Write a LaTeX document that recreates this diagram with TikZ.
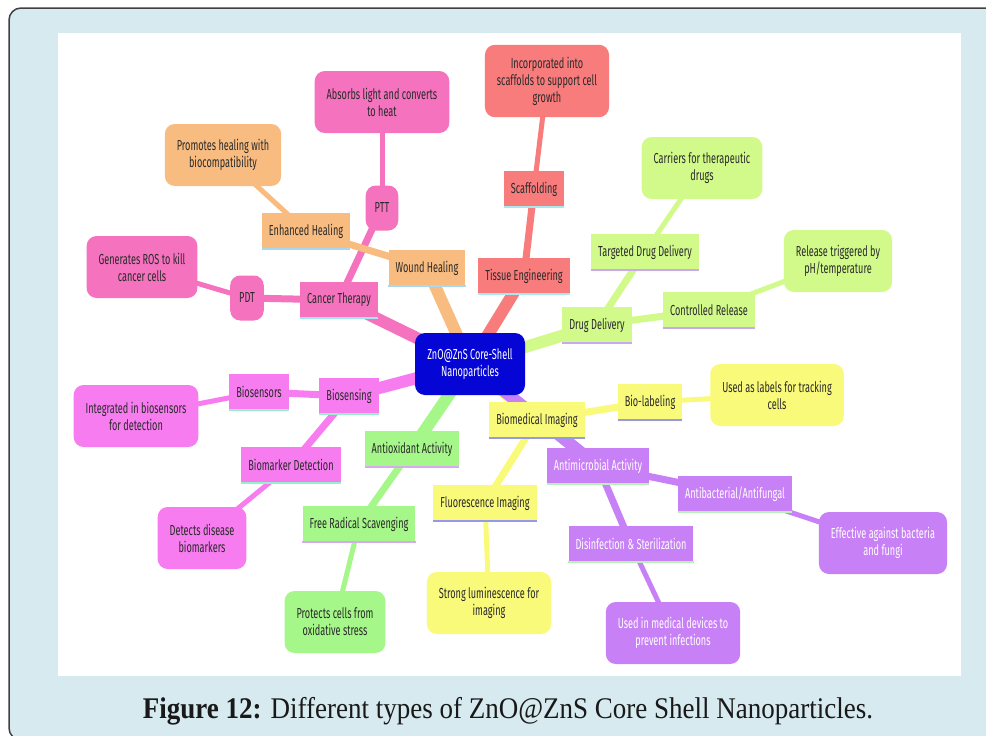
\documentclass[tikz,border=0pt]{standalone}
\usepackage{fontspec}
\setmainfont{Liberation Serif}
\newfontfamily\mapfont[FakeStretch=0.63]{Fira Sans}
\newfontfamily\capfont[FakeStretch=0.9]{Liberation Serif}
\newcommand\mapfs{\mapfont\fontsize{14.5}{17}\selectfont}
\usetikzlibrary{calc}
\pgfdeclarelayer{bg}
\pgfdeclarelayer{edges}
\pgfsetlayers{bg,edges,main}
\definecolor{framebg}{HTML}{D6EAF0}
\definecolor{rootblue}{HTML}{0505D6}
\definecolor{pinkc}{HTML}{F472BE}
\definecolor{pinkln}{HTML}{A0E8F0}
\definecolor{orangec}{HTML}{F9BC80}
\definecolor{orangeln}{HTML}{A8D8F0}
\definecolor{redc}{HTML}{F87C7C}
\definecolor{redln}{HTML}{A8E8F0}
\definecolor{limec}{HTML}{D2FA8A}
\definecolor{limeln}{HTML}{C8A8F0}
\definecolor{yellowc}{HTML}{FAFA7A}
\definecolor{yellowln}{HTML}{9898E8}
\definecolor{purplec}{HTML}{C880F6}
\definecolor{purpleln}{HTML}{B8F0B8}
\definecolor{magc}{HTML}{F67CF0}
\definecolor{magln}{HTML}{98F0C8}
\definecolor{greenc}{HTML}{A6F78A}
\definecolor{greenln}{HTML}{D8A8F0}
\definecolor{inkc}{HTML}{2A2A2A}
\tikzset{
  root/.style={fill=rootblue, text=white, rounded corners=10, minimum width=110,
      minimum height=62, align=center, font=\mapfs},
  sub/.style 2 args={fill=#1, text=inkc, minimum height=36, inner xsep=7, font=\mapfs,
      append after command={(\tikzlastnode.south west) edge[draw=#2, line width=2]
        (\tikzlastnode.south east)}},
  leaf/.style={fill=#1, text=inkc, rounded corners=10, minimum height=62, inner xsep=12,
      inner ysep=12, align=center, font=\mapfs},
  tag/.style={fill=#1, text=inkc, rounded corners=10, minimum height=45, inner xsep=9,
      font=\mapfs},
  link/.style={draw=#1, line cap=butt},
}

\begin{document}
\begin{tikzpicture}[x=1pt, y=-1pt]
      \clip (0,0) rectangle (986,736);
      \begin{pgfonlayer}{bg}
        \draw [fill=framebg, draw=black!75, line width=1.5, rounded corners=12]
        (9,8) rectangle (1010,740);
        \fill [white] (58,33) rectangle (961,676);
      \end{pgfonlayer}

      \node [root] (zn) at (470,364) {ZnO@ZnS Core-Shell\\Nanoparticles};

      % cancer therapy
      \node [sub={pinkc}{pinkln}] (ct) at (339,300) {Cancer Therapy};
      \node [tag=pinkc] (pdt) at (247,298) {PDT};
      \node [leaf=pinkc] (ros) at (142,267) {Generates ROS to kill\\cancer cells};
      \node [tag=pinkc] (ptt) at (382,208) {PTT};
      \node [leaf=pinkc] (heat) at (382,102) {Absorbs light and converts\\to heat};

      % wound healing
      \node [sub={orangec}{orangeln}] (wh) at (427,268) {Wound Healing};
      \node [sub={orangec}{orangeln}] (eh) at (306,231) {Enhanced Healing};
      \node [leaf=orangec] (biocomp) at (223,155) {Promotes healing with\\biocompatibility};

      % tissue engineering
      \node [sub={redc}{redln}] (te) at (524,276) {Tissue Engineering};
      \node [sub={redc}{redln}] (sc) at (534,189) {Scaffolding};
      \node [leaf=redc] (growth) at (547,81) {Incorporated into\\scaffolds to support cell\\growth};

      % drug delivery
      \node [sub={limec}{limeln}] (dd) at (597,325) {Drug Delivery};
      \node [sub={limec}{limeln}] (tdd) at (645,252) {Targeted Drug Delivery};
      \node [leaf=limec] (carrier) at (702,168) {Carriers for therapeutic\\drugs};
      \node [sub={limec}{limeln}] (cr) at (709,310) {Controlled Release};
      \node [leaf=limec] (trigger) at (838,261) {Release triggered by\\pH/temperature};

      % imaging
      \node [sub={yellowc}{yellowln}] (bi) at (537,420) {Biomedical Imaging};
      \node [sub={yellowc}{yellowln}] (bl) at (650,402) {Bio-labeling};
      \node [leaf=yellowc] (track) at (777,395) {Used as labels for tracking\\cells};
      \node [sub={yellowc}{yellowln}] (fi) at (485,503) {Fluorescence Imaging};
      \node [leaf=yellowc] (lum) at (489,603) {Strong luminescence for\\imaging};

      % antimicrobial
      \node [sub={purplec}{purpleln}, text=white] (am) at (598,466) {Antimicrobial Activity};
      \node [sub={purplec}{purpleln}, text=white] (ab) at (735,494) {Antibacterial/Antifungal};
      \node [leaf=purplec, text=white] (fungi) at (883,543) {Effective against bacteria\\and fungi};
      \node [sub={purplec}{purpleln}, text=white] (ds) at (631,544) {Disinfection \& Sterilization};
      \node [leaf=purplec, text=white] (device) at (673,633) {Used in medical devices to\\prevent infections};

      % biosensing
      \node [sub={magc}{magln}] (bs) at (349,396) {Biosensing};
      \node [sub={magc}{magln}] (bsr) at (259,392) {Biosensors};
      \node [leaf=magc] (detect) at (136,416) {Integrated in biosensors\\for detection};
      \node [sub={magc}{magln}] (bmd) at (291,465) {Biomarker Detection};
      \node [leaf=magc] (disease) at (202,538) {Detects disease\\biomarkers};

      % antioxidant
      \node [sub={greenc}{greenln}] (ao) at (412,449) {Antioxidant Activity};
      \node [sub={greenc}{greenln}] (frs) at (359,524) {Free Radical Scavenging};
      \node [leaf=greenc] (stress) at (335,622) {Protects cells from\\oxidative stress};

      \begin{pgfonlayer}{edges}
        \foreach \To/\Col in {ct/pinkc, wh/orangec, te/redc, dd/limec, bi/yellowc,
            am/purplec, bs/magc, ao/greenc}{
            \draw [link=\Col, line width=12] (zn.center) -- (\To.center);
          }
        \foreach \From/\To/\Col in {ct/pdt/pinkc, ct/ptt/pinkc, wh/eh/orangec, te/sc/redc,
            dd/tdd/limec, dd/cr/limec, bi/bl/yellowc, bi/fi/yellowc, am/ab/purplec,
            am/ds/purplec, bs/bsr/magc, bs/bmd/magc, ao/frs/greenc}{
            \draw [link=\Col, line width=7] (\From.center) -- (\To.center);
          }
        \foreach \From/\To/\Col in {pdt/ros/pinkc, ptt/heat/pinkc, eh/biocomp/orangec,
            sc/growth/redc, tdd/carrier/limec, cr/trigger/limec, bl/track/yellowc,
            fi/lum/yellowc, ab/fungi/purplec, ds/device/purplec, bsr/detect/magc,
            bmd/disease/magc, frs/stress/greenc}{
            \draw [link=\Col, line width=5] (\From.center) -- (\To.center);
          }
      \end{pgfonlayer}

      \node [font=\capfont\fontsize{30}{34}\selectfont, text=black!90] (caption) at (508,711)
      {\textbf{Figure 12:} Different types of ZnO@ZnS Core Shell Nanoparticles.};
    \end{tikzpicture}
\end{document}
